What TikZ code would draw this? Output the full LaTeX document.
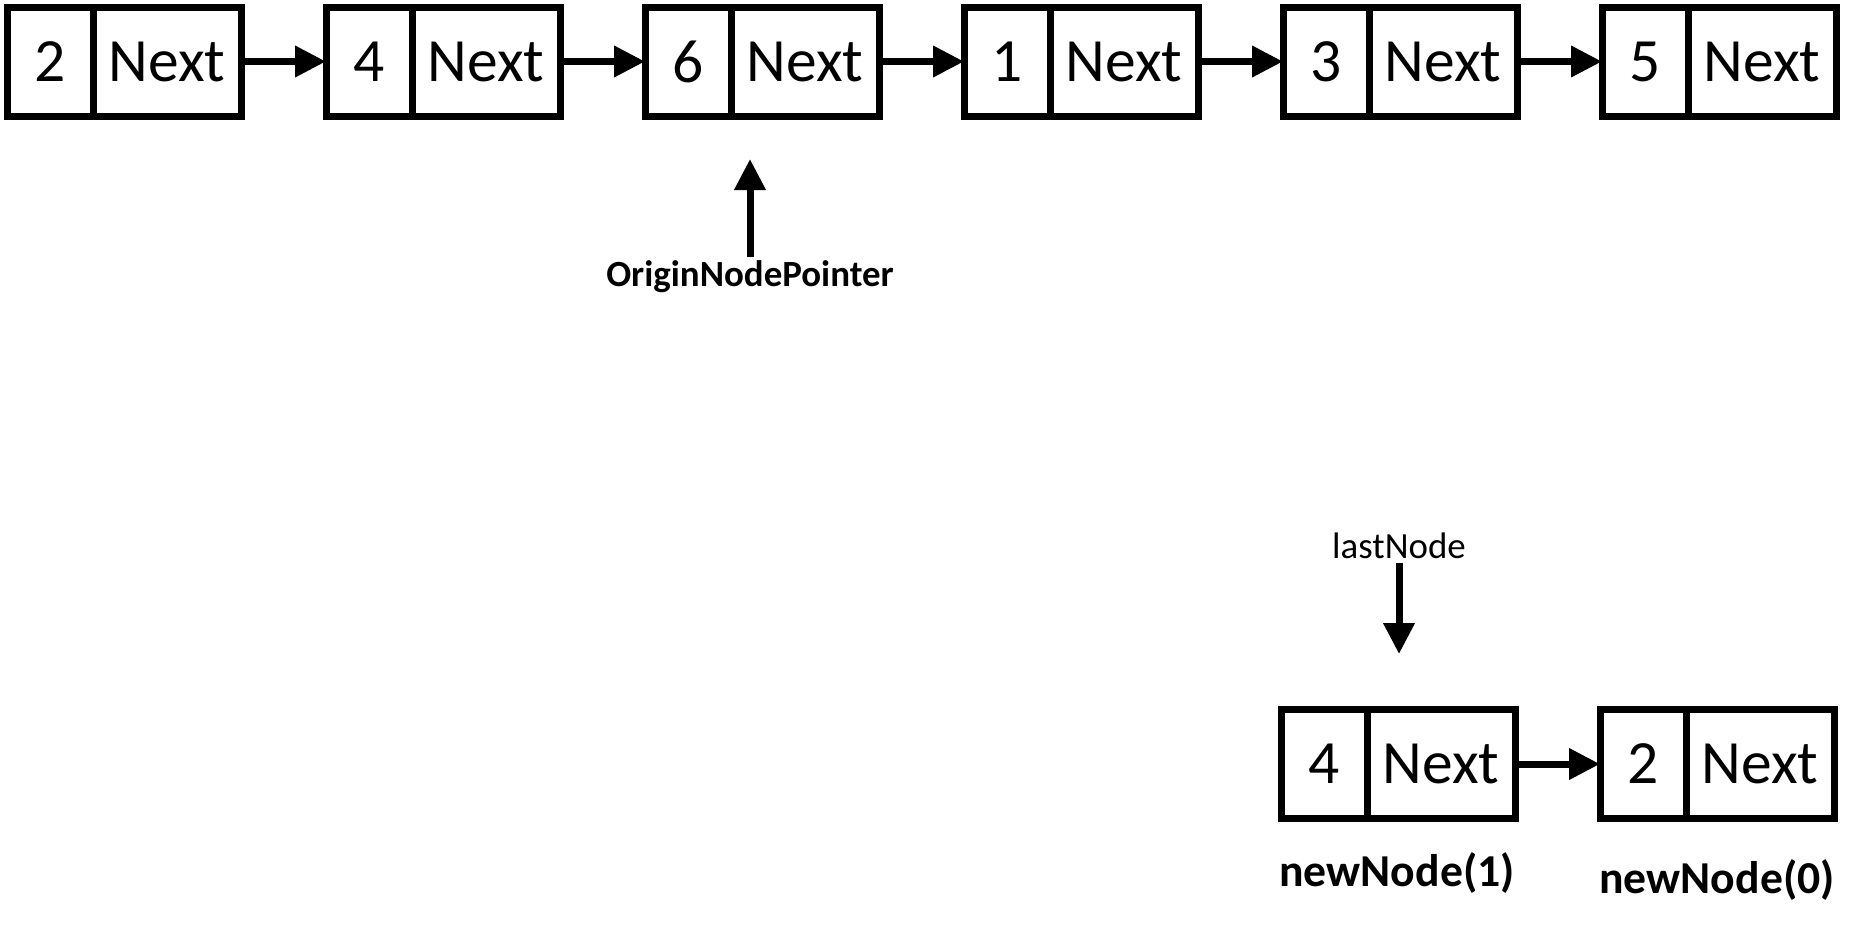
\documentclass[tikz,border=0pt]{standalone}
\usepackage{fontspec}
\setmainfont{Carlito}
\usepackage{tikz}
\usetikzlibrary{arrows.meta,positioning}
\tikzset{
  valbox/.style={draw, line width=0.14cm, outer sep=0pt, inner sep=0pt, minimum width=1.72cm, minimum height=2.18cm, font=\fontsize{35}{40}\selectfont},
  nextbox/.style={valbox, minimum width=2.96cm},
  arr/.style={-{Triangle[length=0.62cm, width=0.6cm]}, line width=0.14cm},
  ptrlabel/.style={font=\fontsize{21}{24}\selectfont, inner sep=2pt},
  namelabel/.style={font=\bfseries\fontsize{26}{30}\selectfont}
}

\begin{document}
\begin{tikzpicture}[node distance=1.7cm]
\useasboundingbox (0,0) rectangle (37.44,-18.58);
% top list
\node[valbox] (v1) at (1.0,-1.23) {2};
\node[nextbox, right=0pt of v1] (n1) {Next};
\node[valbox, right=of n1] (v2) {4};
\node[nextbox, right=0pt of v2] (n2) {Next};
\node[valbox, right=of n2] (v3) {6};
\node[nextbox, right=0pt of v3] (n3) {Next};
\node[valbox, right=of n3] (v4) {1};
\node[nextbox, right=0pt of v4] (n4) {Next};
\node[valbox, right=of n4] (v5) {3};
\node[nextbox, right=0pt of v5] (n5) {Next};
\node[valbox, right=of n5] (v6) {5};
\node[nextbox, right=0pt of v6] (n6) {Next};
\draw[arr] (n1)--(v2);
\draw[arr] (n2)--(v3);
\draw[arr] (n3)--(v4);
\draw[arr] (n4)--(v5);
\draw[arr] (n5)--(v6);
% origin pointer
\node[ptrlabel] (origin) at (15.0,-5.54) {\textbf{OriginNodePointer}};
\coordinate (originTip) at (15.0,-3.18);
\draw[arr] (origin.north)--(originTip);
% new list
\node[valbox] (bv1) at (26.48,-15.28) {4};
\node[nextbox, right=0pt of bv1] (bn1) {Next};
\node[valbox, right=of bn1] (bv2) {2};
\node[nextbox, right=0pt of bv2] (bn2) {Next};
\draw[arr] (bn1)--(bv2);
\node[ptrlabel] (last) at (27.98,-10.92) {lastNode};
\coordinate (lastTip) at (27.98,-13.08);
\draw[arr] (last.south)--(lastTip);
\node[namelabel] (new1) at (27.94,-17.46) {newNode(1)};
\node[namelabel] (new0) at (34.34,-17.6) {newNode(0)};
\end{tikzpicture}
\end{document}
